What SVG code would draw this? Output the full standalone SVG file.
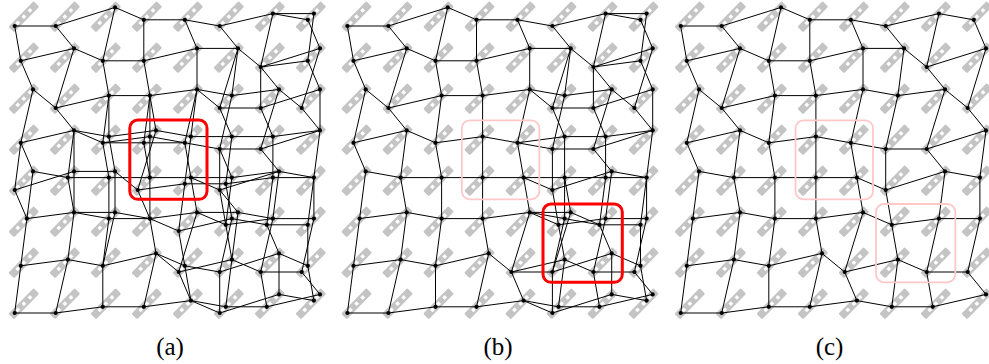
<svg xmlns="http://www.w3.org/2000/svg" width="989" height="364" viewBox="0 0 989 364">
<style>
.e{fill:none;stroke:#000;stroke-width:1}
.n{fill:#000}
.ib{fill:#c4c4c4}
.ih{fill:#fff}
.red{fill:none;stroke:#f00;stroke-width:3}
.pink{fill:none;stroke:#ffc8c8;stroke-width:1.8}
.lbl{font-family:"Liberation Serif",serif;font-size:25px;fill:#000;text-anchor:middle}
</style>
<defs>
<g id="ico"><g transform="rotate(-45.5)"><rect class="ib" x="-5" y="-4" width="36" height="8" rx="1.5"/><rect class="ih" x="2.7" y="-1.7" width="3.4" height="3.4"/><rect class="ih" x="11.4" y="-1.7" width="3.4" height="3.4"/><rect class="ih" x="20.1" y="-1.7" width="3.4" height="3.4"/></g></g>
<g id="icons">
<use href="#ico" x="14.7" y="26"/><use href="#ico" x="55.7" y="26"/><use href="#ico" x="96.7" y="26"/><use href="#ico" x="137.7" y="26"/><use href="#ico" x="178.7" y="26"/><use href="#ico" x="219.7" y="26"/><use href="#ico" x="260.7" y="26"/><use href="#ico" x="301.7" y="26"/>
<use href="#ico" x="14.7" y="67"/><use href="#ico" x="55.7" y="67"/><use href="#ico" x="96.7" y="67"/><use href="#ico" x="137.7" y="67"/><use href="#ico" x="178.7" y="67"/><use href="#ico" x="219.7" y="67"/><use href="#ico" x="260.7" y="67"/><use href="#ico" x="301.7" y="67"/>
<use href="#ico" x="14.7" y="108"/><use href="#ico" x="55.7" y="108"/><use href="#ico" x="96.7" y="108"/><use href="#ico" x="137.7" y="108"/><use href="#ico" x="178.7" y="108"/><use href="#ico" x="219.7" y="108"/><use href="#ico" x="260.7" y="108"/><use href="#ico" x="301.7" y="108"/>
<use href="#ico" x="14.7" y="149"/><use href="#ico" x="55.7" y="149"/><use href="#ico" x="96.7" y="149"/><use href="#ico" x="137.7" y="149"/><use href="#ico" x="178.7" y="149"/><use href="#ico" x="219.7" y="149"/><use href="#ico" x="260.7" y="149"/><use href="#ico" x="301.7" y="149"/>
<use href="#ico" x="14.7" y="190"/><use href="#ico" x="55.7" y="190"/><use href="#ico" x="96.7" y="190"/><use href="#ico" x="137.7" y="190"/><use href="#ico" x="178.7" y="190"/><use href="#ico" x="219.7" y="190"/><use href="#ico" x="260.7" y="190"/><use href="#ico" x="301.7" y="190"/>
<use href="#ico" x="14.7" y="231"/><use href="#ico" x="55.7" y="231"/><use href="#ico" x="96.7" y="231"/><use href="#ico" x="137.7" y="231"/><use href="#ico" x="178.7" y="231"/><use href="#ico" x="219.7" y="231"/><use href="#ico" x="260.7" y="231"/><use href="#ico" x="301.7" y="231"/>
<use href="#ico" x="14.7" y="272"/><use href="#ico" x="55.7" y="272"/><use href="#ico" x="96.7" y="272"/><use href="#ico" x="137.7" y="272"/><use href="#ico" x="178.7" y="272"/><use href="#ico" x="219.7" y="272"/><use href="#ico" x="260.7" y="272"/><use href="#ico" x="301.7" y="272"/>
<use href="#ico" x="14.7" y="313"/><use href="#ico" x="55.7" y="313"/><use href="#ico" x="96.7" y="313"/><use href="#ico" x="137.7" y="313"/><use href="#ico" x="178.7" y="313"/><use href="#ico" x="219.7" y="313"/><use href="#ico" x="260.7" y="313"/><use href="#ico" x="301.7" y="313"/>
</g>
<path id="meshC" class="e" d="M14.7 26L55.7 26L115 7.4L143.8 19.8L184.8 19.8L219.7 26L272.9 13.6L307.8 19.8M20.8 60.8L74 48.4L102.8 60.8L143.8 60.8L197 48.4L238 48.4L260.7 67L320 48.4M33 89.4L55.7 108L108.9 95.6L149.9 95.6L197 89.4L231.9 95.6L279 89.4L301.7 108M20.8 142.8L74 130.4L102.8 142.8L149.9 136.6L184.8 142.8L219.7 149L260.7 149L320 130.4M33 171.4L67.9 177.6L108.9 177.6L149.9 177.6L190.9 177.6L219.7 190L279 171.4L313.9 177.6M26.9 218.6L74 212.4L108.9 218.6L149.9 218.6L197 212.4L225.8 224.8L272.9 218.6L313.9 218.6M20.8 265.8L67.9 259.6L102.8 265.8L156 253.4L178.7 272L231.9 259.6L260.7 272L301.7 272M14.7 313L55.7 313L102.8 306.8L143.8 306.8L190.9 300.6L225.8 306.8L266.8 306.8L320 294.4M14.7 26L20.8 60.8L33 89.4L20.8 142.8L33 171.4L26.9 218.6L20.8 265.8L14.7 313M55.7 26L74 48.4L55.7 108L74 130.4L67.9 177.6L74 212.4L67.9 259.6L55.7 313M115 7.4L102.8 60.8L108.9 95.6L102.8 142.8L108.9 177.6L108.9 218.6L102.8 265.8L102.8 306.8M143.8 19.8L143.8 60.8L149.9 95.6L149.9 136.6L149.9 177.6L149.9 218.6L156 253.4L143.8 306.8M184.8 19.8L197 48.4L197 89.4L184.8 142.8L190.9 177.6L197 212.4L178.7 272L190.9 300.6M219.7 26L238 48.4L231.9 95.6L219.7 149L219.7 190L225.8 224.8L231.9 259.6L225.8 306.8M272.9 13.6L260.7 67L279 89.4L260.7 149L279 171.4L272.9 218.6L260.7 272L266.8 306.8M307.8 19.8L320 48.4L301.7 108L320 130.4L313.9 177.6L313.9 218.6L301.7 272L320 294.4"/>
<g id="nodesC" class="n">
<circle cx="14.7" cy="26" r="2.1"/><circle cx="55.7" cy="26" r="2.1"/><circle cx="115" cy="7.4" r="2.1"/><circle cx="143.8" cy="19.8" r="2.1"/><circle cx="184.8" cy="19.8" r="2.1"/><circle cx="219.7" cy="26" r="2.1"/><circle cx="272.9" cy="13.6" r="2.1"/><circle cx="307.8" cy="19.8" r="2.1"/>
<circle cx="20.8" cy="60.8" r="2.1"/><circle cx="74" cy="48.4" r="2.1"/><circle cx="102.8" cy="60.8" r="2.1"/><circle cx="143.8" cy="60.8" r="2.1"/><circle cx="197" cy="48.4" r="2.1"/><circle cx="238" cy="48.4" r="2.1"/><circle cx="260.7" cy="67" r="2.1"/><circle cx="320" cy="48.4" r="2.1"/>
<circle cx="33" cy="89.4" r="2.1"/><circle cx="55.7" cy="108" r="2.1"/><circle cx="108.9" cy="95.6" r="2.1"/><circle cx="149.9" cy="95.6" r="2.1"/><circle cx="197" cy="89.4" r="2.1"/><circle cx="231.9" cy="95.6" r="2.1"/><circle cx="279" cy="89.4" r="2.1"/><circle cx="301.7" cy="108" r="2.1"/>
<circle cx="20.8" cy="142.8" r="2.1"/><circle cx="74" cy="130.4" r="2.1"/><circle cx="102.8" cy="142.8" r="2.1"/><circle cx="149.9" cy="136.6" r="2.1"/><circle cx="184.8" cy="142.8" r="2.1"/><circle cx="219.7" cy="149" r="2.1"/><circle cx="260.7" cy="149" r="2.1"/><circle cx="320" cy="130.4" r="2.1"/>
<circle cx="33" cy="171.4" r="2.1"/><circle cx="67.9" cy="177.6" r="2.1"/><circle cx="108.9" cy="177.6" r="2.1"/><circle cx="149.9" cy="177.6" r="2.1"/><circle cx="190.9" cy="177.6" r="2.1"/><circle cx="219.7" cy="190" r="2.1"/><circle cx="279" cy="171.4" r="2.1"/><circle cx="313.9" cy="177.6" r="2.1"/>
<circle cx="26.9" cy="218.6" r="2.1"/><circle cx="74" cy="212.4" r="2.1"/><circle cx="108.9" cy="218.6" r="2.1"/><circle cx="149.9" cy="218.6" r="2.1"/><circle cx="197" cy="212.4" r="2.1"/><circle cx="225.8" cy="224.8" r="2.1"/><circle cx="272.9" cy="218.6" r="2.1"/><circle cx="313.9" cy="218.6" r="2.1"/>
<circle cx="20.8" cy="265.8" r="2.1"/><circle cx="67.9" cy="259.6" r="2.1"/><circle cx="102.8" cy="265.8" r="2.1"/><circle cx="156" cy="253.4" r="2.1"/><circle cx="178.7" cy="272" r="2.1"/><circle cx="231.9" cy="259.6" r="2.1"/><circle cx="260.7" cy="272" r="2.1"/><circle cx="301.7" cy="272" r="2.1"/>
<circle cx="14.7" cy="313" r="2.1"/><circle cx="55.7" cy="313" r="2.1"/><circle cx="102.8" cy="306.8" r="2.1"/><circle cx="143.8" cy="306.8" r="2.1"/><circle cx="190.9" cy="300.6" r="2.1"/><circle cx="225.8" cy="306.8" r="2.1"/><circle cx="266.8" cy="306.8" r="2.1"/><circle cx="320" cy="294.4" r="2.1"/>
</g>
</defs>

<!-- Panel (a) -->
<g id="panel-a">
<use href="#icons"/>
<g id="a-connectors">
<use href="#meshC"/>
<path class="e" d="M272.9 13.6L313.9 13.6M260.7 67L307.8 60.8M197 89.4L219.7 108L260.7 108L320 89.4M74 130.4L108.9 136.6L156 130.4L190.9 136.6L231.9 136.6L272.9 136.6L320 130.4M14.7 190L74 171.4L115 171.4L137.7 190L184.8 183.8L225.8 183.8L272.9 177.6L313.9 177.6M74 212.4L115 212.4L149.9 218.6L178.7 231L231.9 218.6L266.8 224.8L307.8 224.8M156 253.4L184.8 265.8L219.7 272L279 253.4L307.8 265.8M190.9 300.6L219.7 313L279 294.4L313.9 300.6M20.8 142.8L14.7 190L26.9 218.6M74 130.4L74 171.4L74 212.4M108.9 95.6L108.9 136.6L115 171.4L115 212.4L102.8 265.8M149.9 95.6L156 130.4L137.7 190L149.9 218.6M197 89.4L190.9 136.6L184.8 183.8L178.7 231L184.8 265.8L190.9 300.6M238 48.4L219.7 108L231.9 136.6L225.8 183.8L231.9 218.6L219.7 272L219.7 313M260.7 67L260.7 108L272.9 136.6L272.9 177.6L266.8 224.8L279 253.4L279 294.4M313.9 13.6L307.8 60.8L320 89.4L320 130.4M313.9 177.6L307.8 224.8L307.8 265.8L313.9 300.6M102.8 142.8L143.8 142.8L184.8 142.8M149.9 95.6L143.8 142.8L149.9 177.6M190.9 177.6L231.9 177.6L279 171.4M219.7 149L231.9 177.6L225.8 224.8M197 212.4L238 212.4L272.9 218.6M219.7 190L238 212.4L231.9 259.6"/>
</g>
<g id="a-nodes">
<use href="#nodesC"/>
<g class="n">
<g id="a-x1"><circle cx="313.9" cy="13.6" r="2.1"/></g><g id="a-x2"><circle cx="307.8" cy="60.8" r="2.1"/></g><g id="a-x3"><circle cx="219.7" cy="108" r="2.1"/></g><g id="a-x4"><circle cx="260.7" cy="108" r="2.1"/></g><g id="a-x5"><circle cx="320" cy="89.4" r="2.1"/></g>
<g id="a-x6"><circle cx="108.9" cy="136.6" r="2.1"/></g><g id="a-x7"><circle cx="156" cy="130.4" r="2.1"/></g><g id="a-x8"><circle cx="190.9" cy="136.6" r="2.1"/></g><g id="a-x9"><circle cx="231.9" cy="136.6" r="2.1"/></g><g id="a-x10"><circle cx="272.9" cy="136.6" r="2.1"/></g><g id="a-x11"><circle cx="143.8" cy="142.8" r="2.1"/></g>
<g id="a-x12"><circle cx="14.7" cy="190" r="2.1"/></g><g id="a-x13"><circle cx="74" cy="171.4" r="2.1"/></g><g id="a-x14"><circle cx="115" cy="171.4" r="2.1"/></g><g id="a-x15"><circle cx="137.7" cy="190" r="2.1"/></g><g id="a-x16"><circle cx="184.8" cy="183.8" r="2.1"/></g><g id="a-x17"><circle cx="225.8" cy="183.8" r="2.1"/></g><g id="a-x18"><circle cx="272.9" cy="177.6" r="2.1"/></g><g id="a-x19"><circle cx="231.9" cy="177.6" r="2.1"/></g>
<g id="a-x20"><circle cx="115" cy="212.4" r="2.1"/></g><g id="a-x21"><circle cx="178.7" cy="231" r="2.1"/></g><g id="a-x22"><circle cx="231.9" cy="218.6" r="2.1"/></g><g id="a-x23"><circle cx="266.8" cy="224.8" r="2.1"/></g><g id="a-x24"><circle cx="307.8" cy="224.8" r="2.1"/></g><g id="a-x25"><circle cx="238" cy="212.4" r="2.1"/></g>
<g id="a-x26"><circle cx="184.8" cy="265.8" r="2.1"/></g><g id="a-x27"><circle cx="219.7" cy="272" r="2.1"/></g><g id="a-x28"><circle cx="279" cy="253.4" r="2.1"/></g><g id="a-x29"><circle cx="307.8" cy="265.8" r="2.1"/></g>
<g id="a-x30"><circle cx="219.7" cy="313" r="2.1"/></g><g id="a-x31"><circle cx="279" cy="294.4" r="2.1"/></g><g id="a-x32"><circle cx="313.9" cy="300.6" r="2.1"/></g>
</g>
</g>
<rect id="a-box" class="red" x="129.8" y="120" width="77.2" height="79.3" rx="8"/>
<text class="lbl" x="170" y="355">(a)</text>
</g>

<!-- Panel (b) -->
<g id="panel-b" transform="translate(332.7,0)">
<use href="#icons"/>
<g id="b-connectors">
<use href="#meshC"/>
<path class="e" d="M272.9 13.6L313.9 13.6M260.7 67L307.8 60.8M197 89.4L219.7 108L260.7 108L320 89.4M184.8 142.8L231.9 136.6L272.9 136.6L320 130.4M190.9 177.6L231.9 177.6L272.9 177.6L313.9 177.6M197 212.4L238 212.4L266.8 224.8L307.8 224.8M178.7 272L219.7 272L279 253.4L307.8 265.8M190.9 300.6L219.7 313L279 294.4L313.9 300.6M238 48.4L219.7 108L231.9 136.6L231.9 177.6L238 212.4L219.7 272L219.7 313M260.7 67L260.7 108L272.9 136.6L272.9 177.6L266.8 224.8L279 253.4L279 294.4M313.9 13.6L307.8 60.8L320 89.4L320 130.4M313.9 177.6L307.8 224.8L307.8 265.8L313.9 300.6M197 212.4L231.9 218.6L266.8 224.8M231.9 177.6L231.9 218.6L219.7 272"/>
</g>
<g id="b-nodes">
<use href="#nodesC"/>
<g class="n">
<g id="b-x1"><circle cx="313.9" cy="13.6" r="2.1"/></g><g id="b-x2"><circle cx="307.8" cy="60.8" r="2.1"/></g><g id="b-x3"><circle cx="219.7" cy="108" r="2.1"/></g><g id="b-x4"><circle cx="260.7" cy="108" r="2.1"/></g><g id="b-x5"><circle cx="320" cy="89.4" r="2.1"/></g>
<g id="b-x6"><circle cx="231.9" cy="136.6" r="2.1"/></g><g id="b-x7"><circle cx="272.9" cy="136.6" r="2.1"/></g><g id="b-x8"><circle cx="231.9" cy="177.6" r="2.1"/></g><g id="b-x9"><circle cx="272.9" cy="177.6" r="2.1"/></g>
<g id="b-x10"><circle cx="238" cy="212.4" r="2.1"/></g><g id="b-x11"><circle cx="231.9" cy="218.6" r="2.1"/></g><g id="b-x12"><circle cx="266.8" cy="224.8" r="2.1"/></g><g id="b-x13"><circle cx="307.8" cy="224.8" r="2.1"/></g>
<g id="b-x14"><circle cx="219.7" cy="272" r="2.1"/></g><g id="b-x15"><circle cx="279" cy="253.4" r="2.1"/></g><g id="b-x16"><circle cx="307.8" cy="265.8" r="2.1"/></g>
<g id="b-x17"><circle cx="219.7" cy="313" r="2.1"/></g><g id="b-x18"><circle cx="279" cy="294.4" r="2.1"/></g><g id="b-x19"><circle cx="313.9" cy="300.6" r="2.1"/></g>
</g>
</g>
<rect id="b-box1" class="pink" x="129.1" y="120.3" width="77.5" height="79" rx="8"/>
<rect id="b-box2" class="red" x="210.3" y="204" width="79.3" height="78.3" rx="8"/>
<text class="lbl" x="165.3" y="355">(b)</text>
</g>

<!-- Panel (c) -->
<g id="panel-c" transform="translate(666,0)">
<use href="#icons"/>
<g id="c-connectors">
<use href="#meshC"/>
</g>
<g id="c-nodes">
<use href="#nodesC"/>
</g>
<rect id="c-box1" class="pink" x="129.5" y="120.3" width="77.5" height="79" rx="8"/>
<rect id="c-box2" class="pink" x="210" y="204" width="79.3" height="78.3" rx="8"/>
<text class="lbl" x="163.5" y="355">(c)</text>
</g>
</svg>
